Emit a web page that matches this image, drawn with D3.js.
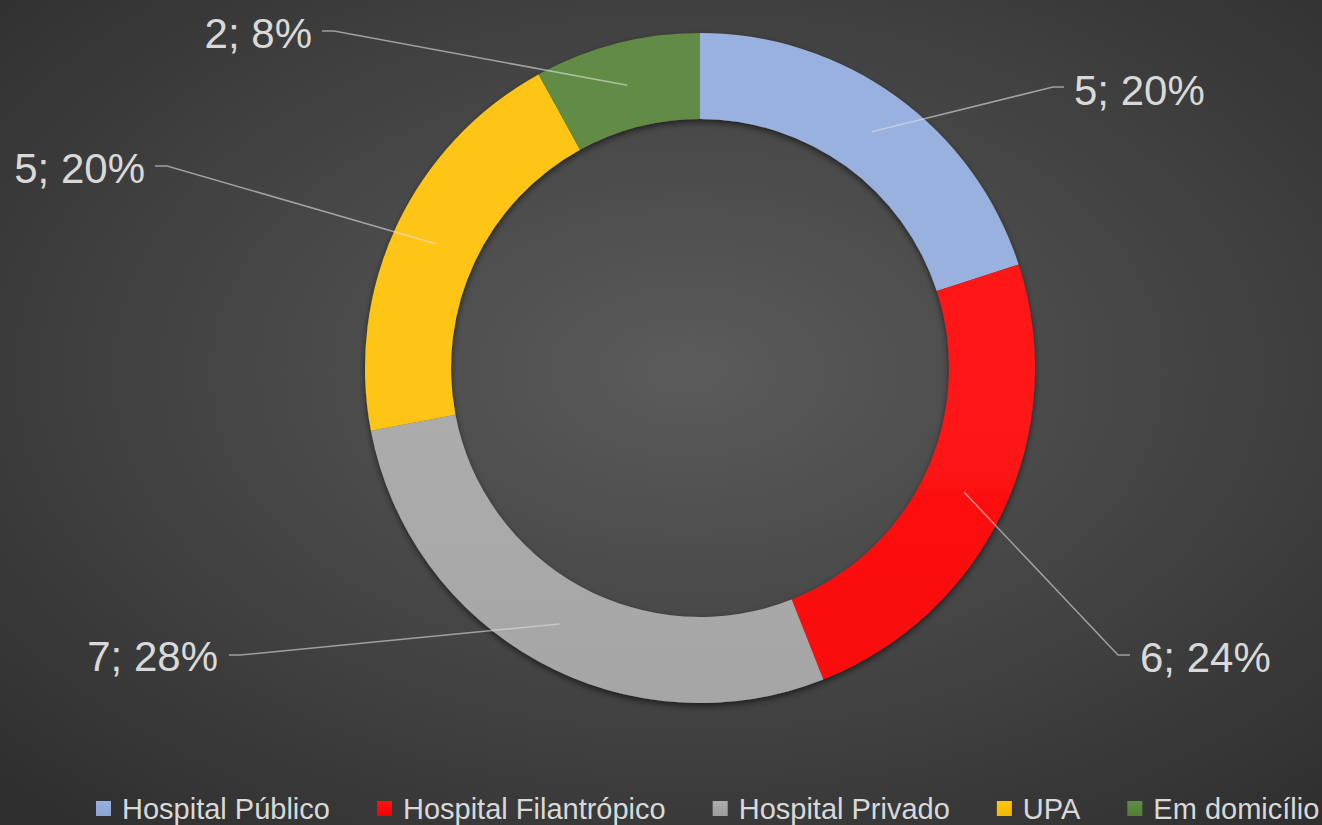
<!DOCTYPE html>
<html>
<head>
<meta charset="utf-8">
<script src="https://cdn.jsdelivr.net/npm/d3@7"></script>
<style>
html,body{margin:0;padding:0;background:#3a3a3a;overflow:hidden;}
svg{display:block;}
</style>
</head>
<body>
<svg id="chart" width="1322" height="825"></svg>
<script>
// ---- data ----
const categories = ["Hospital Público", "Hospital Filantrópico", "Hospital Privado", "UPA", "Em domicílio"];
const values = [5, 6, 7, 5, 2];
const percents = ["20%", "24%", "28%", "20%", "8%"];
const colors = ["#8faadc", "#ff0000", "#a5a5a5", "#ffc000", "#548235"];

// ---- layout (positions, not data) ----
const W = 1322, H = 825;
const cx = 700, cy = 368, rOuter = 335, rInner = 249;
const fontFam = "'Liberation Sans', Arial, sans-serif";
const labelLayout = [
  {tx: 1074, ty: 105, anchor: "start", ex: 1053, hx: 1064, ey: 87},
  {tx: 1140, ty: 672, anchor: "start", ex: 1118, hx: 1130, ey: 655},
  {tx: 218, ty: 671, anchor: "end", ex: 240, hx: 229, ey: 655},
  {tx: 145, ty: 183, anchor: "end", ex: 167, hx: 155, ey: 166},
  {tx: 312, ty: 48, anchor: "end", ex: 334, hx: 322, ey: 31}
];

const svg = d3.select("#chart");
const defs = svg.append("defs");

const bg = defs.append("radialGradient").attr("id", "bg")
  .attr("cx", "52%").attr("cy", "45%").attr("r", "72%");
bg.append("stop").attr("offset", "0%").attr("stop-color", "#5b5b5b");
bg.append("stop").attr("offset", "100%").attr("stop-color", "#2f2f2f");
svg.append("rect").attr("width", W).attr("height", H).attr("fill", "url(#bg)");

const f = defs.append("filter").attr("id", "shadow")
  .attr("x", "-10%").attr("y", "-10%").attr("width", "120%").attr("height", "120%");
f.append("feDropShadow").attr("dx", 0).attr("dy", 3).attr("stdDeviation", 3)
  .attr("flood-color", "#000").attr("flood-opacity", 0.55);

const light = c => d3.interpolateRgb(c, "#ffffff")(0.08);
const dark = c => d3.color(c).darker(0.12).formatHex();

colors.forEach((c, i) => {
  const g = defs.append("linearGradient").attr("id", "g" + i)
    .attr("gradientUnits", "userSpaceOnUse")
    .attr("x1", 0).attr("x2", 0).attr("y1", cy - rOuter).attr("y2", cy + rOuter);
  g.append("stop").attr("offset", "0%").attr("stop-color", light(c));
  g.append("stop").attr("offset", "100%").attr("stop-color", dark(c));
  const lg = defs.append("linearGradient").attr("id", "lg" + i)
    .attr("x1", 0).attr("x2", 0).attr("y1", 0).attr("y2", 1);
  lg.append("stop").attr("offset", "0%").attr("stop-color", light(c));
  lg.append("stop").attr("offset", "100%").attr("stop-color", dark(c));
});

const pie = d3.pie().sort(null).value(d => d);
const arcs = pie(values);
const arc = d3.arc().innerRadius(rInner).outerRadius(rOuter);
const midArc = d3.arc().innerRadius((rInner + rOuter) / 2).outerRadius((rInner + rOuter) / 2);

const g = svg.append("g").attr("transform", `translate(${cx},${cy})`);
g.append("g").attr("filter", "url(#shadow)")
  .selectAll("path").data(arcs).join("path")
  .attr("d", arc)
  .attr("fill", (d, i) => `url(#g${i})`);

const lbl = svg.append("g");
arcs.forEach((d, i) => {
  const [mx, my] = midArc.centroid(d);
  const L = labelLayout[i];
  lbl.append("polyline")
    .attr("points", `${cx + mx},${cy + my} ${L.ex},${L.ey} ${L.hx},${L.ey}`)
    .attr("fill", "none").attr("stroke", "#e0e0e0").attr("stroke-opacity", 0.6)
    .attr("stroke-width", 1.5);
  lbl.append("text")
    .attr("x", L.tx).attr("y", L.ty)
    .attr("text-anchor", L.anchor)
    .attr("font-family", fontFam).attr("font-size", 42)
    .attr("fill", "#d9d9d9")
    .text(`${values[i]}; ${percents[i]}`);
});

const legend = svg.append("g");
let x = 96;
categories.forEach((c, i) => {
  legend.append("rect").attr("x", x).attr("y", 801).attr("width", 15).attr("height", 15)
    .attr("fill", `url(#lg${i})`);
  const t = legend.append("text").attr("x", x + 26).attr("y", 819)
    .attr("font-family", fontFam).attr("font-size", 29).attr("fill", "#d9d9d9")
    .text(c);
  x = x + 26 + t.node().getComputedTextLength() + 47;
});
</script>
</body>
</html>
